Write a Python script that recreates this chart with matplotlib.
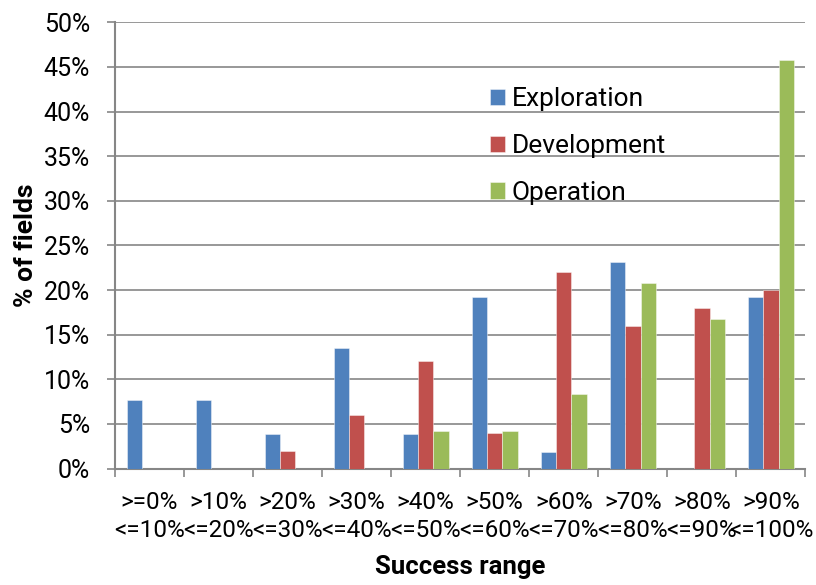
import matplotlib
matplotlib.use('Agg')
import matplotlib.pyplot as plt
import numpy as np

plt.rcParams['font.family'] = ['Roboto', 'DejaVu Sans']

ranges = ['>=0%\n<=10%', '>10%\n<=20%', '>20%\n<=30%', '>30%\n<=40%', '>40%\n<=50%',
          '>50%\n<=60%', '>60%\n<=70%', '>70%\n<=80%', '>80%\n<=90%', '>90%\n<=100%']
exploration = [7.7, 7.7, 3.85, 13.5, 3.85, 19.2, 1.9, 23.1, 0, 19.2]
development = [0, 0, 2, 6, 12, 4, 22, 16, 18, 20]
operation = [0, 0, 0, 0, 4.2, 4.2, 8.3, 20.8, 16.7, 45.8]

series = [('Exploration', exploration, '#4F81BD'),
          ('Development', development, '#C0504D'),
          ('Operation', operation, '#9BBB59')]

grid_col = '#868686'

fig = plt.figure(figsize=(8.16, 5.85), dpi=100)
ax = fig.add_axes([0.1409, 0.1991, 0.8462, 0.7628])

x = np.arange(len(ranges))
w = 0.222
for k, (name, vals, col) in enumerate(series):
    ax.bar(x + (k - 1) * w, vals, w, color=col, label=name,
           edgecolor=(1, 1, 1, 0.5), linewidth=0.6, zorder=3)

ax.set_xlim(-0.5, len(ranges) - 0.5)
ax.set_ylim(0, 50)
ax.set_yticks(np.arange(0, 51, 5))
ax.set_yticklabels(['%d%%' % v for v in range(0, 51, 5)])
ax.yaxis.grid(True, color=grid_col, linewidth=1.2, zorder=0)
ax.set_axisbelow(True)

# category labels in the middle, tick marks on the boundaries
ax.set_xticks(x)
ax.set_xticklabels(ranges, linespacing=1.3)
ax.set_xticks(np.arange(-0.5, len(ranges)), minor=True)
ax.tick_params(axis='x', which='major', length=0, pad=16, labelsize=17.5)
ax.tick_params(axis='x', which='minor', length=6, width=1.2, color=grid_col)
ax.tick_params(axis='y', length=6, width=1.2, color=grid_col, pad=12, labelsize=18)

for s in ['top', 'right']:
    ax.spines[s].set_visible(False)
for s in ['left', 'bottom']:
    ax.spines[s].set_color(grid_col)
    ax.spines[s].set_linewidth(1.5)

ax.set_xlabel('Success range', fontsize=18.5, fontweight='bold', labelpad=9)
ax.set_ylabel('% of fields', fontsize=19, fontweight='bold', labelpad=4)

ax.legend(loc='upper left', bbox_to_anchor=(490 / 816, 1 - 87 / 585),
          bbox_transform=fig.transFigure, frameon=False, fontsize=19,
          handlelength=0.57, handleheight=0.57, handletextpad=0.25,
          labelspacing=0.87, borderpad=0, borderaxespad=0)

fig.savefig('out.png', dpi=100)
